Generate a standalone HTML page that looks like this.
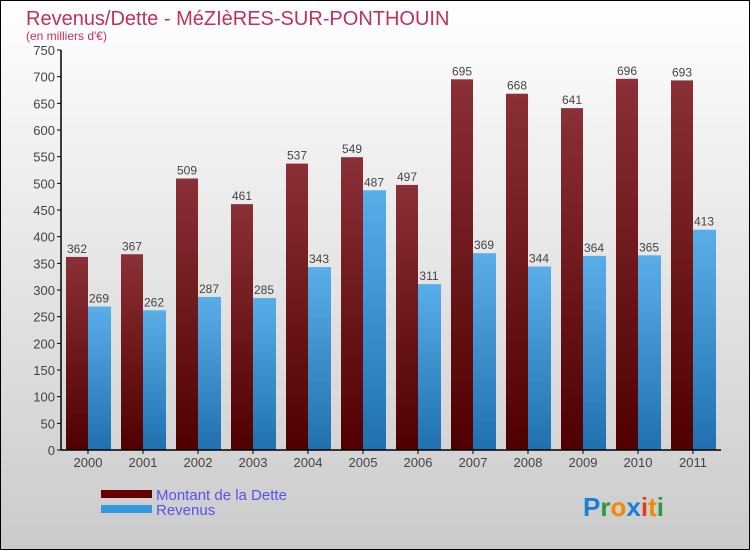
<!DOCTYPE html>
<html><head><meta charset="utf-8"><style>
body{margin:0}
#c{position:relative;width:748px;height:548px;border:1px solid #000;background:linear-gradient(#fff,#f4f4f4 20%,#cbcbcb);font-family:"Liberation Sans",sans-serif;overflow:hidden}
text{font-family:"Liberation Sans",sans-serif}
</style></head><body>
<div id="c">
<svg id="s" width="748" height="548">
<defs>
<linearGradient id="gd" x1="0" y1="0" x2="0" y2="1"><stop offset="0" stop-color="#8a3036"/><stop offset="1" stop-color="#500000"/></linearGradient>
<linearGradient id="gr" x1="0" y1="0" x2="0" y2="1"><stop offset="0" stop-color="#5aaee8"/><stop offset="1" stop-color="#2070b0"/></linearGradient>
</defs>
<text x="25" y="24" font-size="20" fill="#c2305e">Revenus/Dette - MéZIèRES-SUR-PONTHOUIN</text>
<text x="25" y="39" font-size="12" fill="#c2305e">(en milliers d'€)</text>
<g id="plot"></g>
<rect x="100" y="489" width="51" height="8" fill="#650000"/>
<rect x="100" y="504" width="51" height="8" fill="#3398dd"/>
<text x="155" y="499" font-size="15" fill="#5555ee">Montant de la Dette</text>
<text x="155" y="514" font-size="15" fill="#5555ee">Revenus</text>
<text x="582" y="515" font-size="26" font-weight="bold"><tspan fill="#1a7fd6">P</tspan><tspan fill="#2a9a3a">r</tspan><tspan fill="#f08a00">o</tspan><tspan fill="#1a7fd6">x</tspan><tspan fill="#e83a1a">i</tspan><tspan fill="#f08a00">t</tspan><tspan fill="#2a9a3a">i</tspan></text>
</svg>
</div>
<script>
const years=["2000","2001","2002","2003","2004","2005","2006","2007","2008","2009","2010","2011"];
const dette=[362,367,509,461,537,549,497,695,668,641,696,693];
const revenus=[269,262,287,285,343,487,311,369,344,364,365,413];
const yTicks=[0,50,100,150,200,250,300,350,400,450,500,550,600,650,700,750];
const NS="http://www.w3.org/2000/svg";
const g=document.getElementById('plot');
const x0=60,step=55,yb=449,ys=400/750;
const Y=v=>yb-v*ys;
function mk(t,a,p){const e=document.createElementNS(NS,t);for(const k in a)e.setAttribute(k,a[k]);(p||g).appendChild(e);return e;}
yTicks.forEach(v=>{
 const l=mk('line',{x1:x0-4,x2:x0,y1:Y(v),y2:Y(v),stroke:'#000'});
 
 
 const t=mk('text',{x:x0-6,y:Y(v)+5,'font-size':13,fill:'#444','text-anchor':'end'});
 t.textContent=v;
 
 
});
years.forEach((yr,i)=>{
 const bx=x0+i*step+5;
 const d=mk('rect',{x:bx,y:Y(dette[i]),width:22,height:dette[i]*ys,fill:'url(#gd)'});
 
 
 const r=mk('rect',{x:bx+22,y:Y(revenus[i]),width:23,height:revenus[i]*ys,fill:'url(#gr)'});
 
 
 const t1=mk('text',{x:bx+11,y:Y(dette[i])-4,'font-size':12,fill:'#444','text-anchor':'middle'});
 t1.textContent=dette[i];
 
 
 const t2=mk('text',{x:bx+33,y:Y(revenus[i])-4,'font-size':12,fill:'#444','text-anchor':'middle'});
 t2.textContent=revenus[i];
 
 
 const tk=mk('line',{x1:bx+22,x2:bx+22,y1:yb,y2:yb+4,stroke:'#000'});
 
 
 const xl=mk('text',{x:bx+22,y:yb+17,'font-size':13,fill:'#444','text-anchor':'middle'});
 xl.textContent=yr;
 
 
});
const ax=mk('line',{x1:x0,x2:x0,y1:Y(750),y2:yb,stroke:'#000','stroke-width':1.5});


const bx=mk('line',{x1:x0,x2:x0+12*step,y1:yb,y2:yb,stroke:'#000','stroke-width':1.5});


</script>
</body></html>
